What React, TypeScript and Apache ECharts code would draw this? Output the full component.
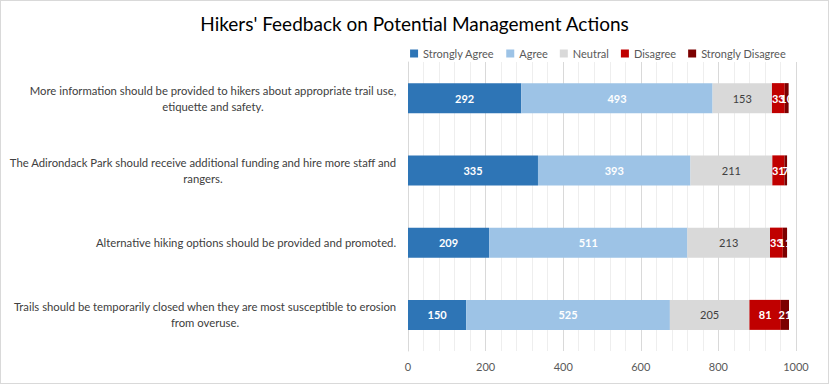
import React, { useEffect, useRef } from "react";
import * as echarts from "echarts";

const categories = [
  "More information should be provided to hikers about appropriate trail use,\netiquette and safety.",
  "The Adirondack Park should receive additional funding and hire more staff and\nrangers.",
  "Alternative hiking options should be provided and promoted.",
  "Trails should be temporarily closed when they are most susceptible to erosion\nfrom overuse.",
];
const seriesNames = ["Strongly Agree", "Agree", "Neutral", "Disagree", "Strongly Disagree"];
const stronglyAgree = [292, 335, 209, 150];
const agree = [493, 393, 511, 525];
const neutral = [153, 211, 213, 205];
const disagree = [33, 31, 33, 81];
const stronglyDisagree = [10, 7, 11, 21];
const xTicks = [0, 200, 400, 600, 800, 1000];

const colors = ["#2E75B6", "#9DC3E6", "#D9D9D9", "#C00000", "#7B0000"];
const labelColors = ["#ffffff", "#ffffff", "#404040", "#ffffff", "#ffffff"];
const FONT = "Lato";
const LABEL_SIZE = 11.3;

function measure(text: string): number {
  const c = document.createElement("canvas");
  const ctx = c.getContext("2d");
  if (!ctx) return text.length * 5;
  ctx.font = `${LABEL_SIZE}px ${FONT}`;
  return ctx.measureText(text).width;
}

export default function App() {
  const ref = useRef<HTMLDivElement>(null);
  useEffect(() => {
    document.body.style.margin = "0";
    if (!ref.current) return;
    const chart = echarts.init(ref.current, undefined, { renderer: "svg" });
    const values = [stronglyAgree, agree, neutral, disagree, stronglyDisagree];
    const rich: Record<string, any> = {};
    categories.forEach((c, i) => {
      const w = Math.max(...c.split("\n").map(measure));
      rich["r" + i] = {
        width: Math.ceil(w) + 1,
        align: "center",
        fontSize: LABEL_SIZE,
        fontFamily: FONT,
        color: "#404040",
        lineHeight: 16,
      };
    });
    chart.setOption({
      animation: false,
      backgroundColor: "#ffffff",
      textStyle: { fontFamily: FONT },
      title: {
        text: "Hikers' Feedback on Potential Management Actions",
        left: "center",
        top: 8,
        textStyle: { fontSize: 19, fontWeight: "normal", color: "#000000", fontFamily: FONT },
      },
      legend: {
        data: seriesNames,
        right: 37,
        top: 42,
        itemWidth: 8,
        itemHeight: 8,
        itemGap: 12,
        icon: "rect",
        textStyle: { fontSize: 11, color: "#595959" },
      },
      grid: { left: 407, right: 32, top: 61, bottom: 32, containLabel: false },
      xAxis: {
        type: "value",
        min: xTicks[0],
        max: xTicks[xTicks.length - 1],
        interval: 200,
        axisLine: { show: false },
        axisTick: { show: false },
        axisLabel: { fontSize: 11, color: "#595959", margin: 10, formatter: (v: number) => String(v) },
        splitLine: { show: true, lineStyle: { color: "#d9d9d9", width: 1 } },
        minorTick: { show: false, splitNumber: 5 },
        minorSplitLine: { show: true, lineStyle: { color: "#eeeeee", width: 1 } },
      },
      yAxis: {
        type: "category",
        inverse: true,
        data: categories,
        axisLine: { show: true, lineStyle: { color: "#d9d9d9" } },
        axisTick: { show: false },
        axisLabel: {
          margin: 11,
          align: "right",
          formatter: (v: string, idx: number) =>
            v
              .split("\n")
              .map((l) => `{r${idx}|${l}}`)
              .join("\n"),
          rich,
        },
      },
      series: seriesNames.map((name, i) => ({
        name,
        type: "bar",
        stack: "total",
        barWidth: 30,
        data: values[i],
        itemStyle: { color: colors[i] },
        label: {
          show: true,
          position: "inside",
          color: labelColors[i],
          fontSize: 11,
          fontWeight: i === 2 ? "normal" : "bold",
        },
      })),
    });
    return () => chart.dispose();
  }, []);
  return (
    <div
      ref={ref}
      style={{
        position: "absolute",
        left: 0,
        top: 0,
        width: 829,
        height: 384,
        boxSizing: "border-box",
        border: "1px solid #d9d9d9",
      }}
    />
  );
}
